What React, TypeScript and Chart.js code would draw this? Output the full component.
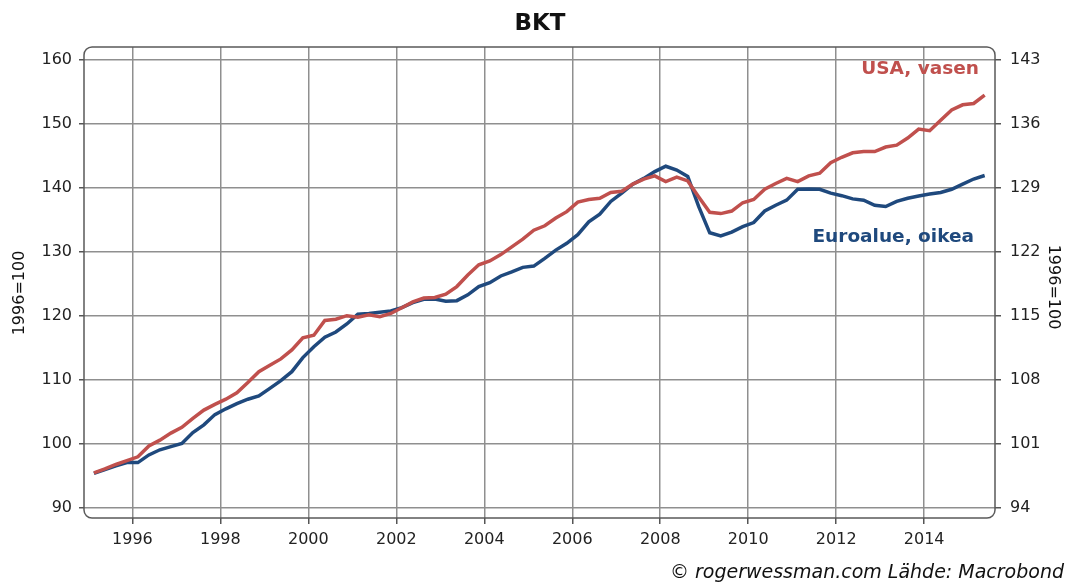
import React, { useEffect, useRef } from "react";
import { Chart, registerables } from "chart.js";
Chart.register(...registerables);

// Quarterly categories 1995Q1 .. 2015Q2
const quarters: string[] = [];
for (let y = 1995; y <= 2015; y++) {
  for (let q = 1; q <= 4; q++) {
    if (y === 2015 && q > 2) break;
    quarters.push(`${y}Q${q}`);
  }
}

// USA GDP, 1996=100 (left axis)
const usaValues = [
  95.5, 96.1, 96.8, 97.4, 98.0, 99.7, 100.6, 101.7, 102.6, 104.0,
  105.3, 106.2, 107.0, 108.0, 109.6, 111.3, 112.3, 113.3, 114.7, 116.6,
  117.0, 119.3, 119.5, 120.05, 119.8, 120.2, 119.9, 120.4, 121.3, 122.2,
  122.8, 122.9, 123.4, 124.6, 126.4, 128.0, 128.6, 129.6, 130.8, 132.0,
  133.4, 134.1, 135.3, 136.3, 137.8, 138.2, 138.4, 139.3, 139.5, 140.6,
  141.4, 141.9, 141.0, 141.7, 141.1, 138.6, 136.2, 136.0, 136.4, 137.7,
  138.2, 139.8, 140.7, 141.5, 141.0, 141.9, 142.3, 143.95, 144.8, 145.5,
  145.7, 145.7, 146.4, 146.7, 147.8, 149.2, 148.95, 150.6, 152.2, 153.0,
  153.2, 154.5,
];

// Euro area GDP, 1996=100 (right axis)
const euroValues = [
  97.78, 98.2, 98.62, 98.97, 98.97, 99.81, 100.37, 100.72, 101.07, 102.26,
  103.1, 104.22, 104.85, 105.41, 105.9, 106.25, 107.09, 107.93, 108.91, 110.45,
  111.64, 112.69, 113.25, 114.13, 115.21, 115.28, 115.42, 115.56, 115.91, 116.47,
  116.82, 116.86, 116.61, 116.68, 117.31, 118.22, 118.64, 119.38, 119.83, 120.32,
  120.46, 121.3, 122.21, 122.95, 123.89, 125.29, 126.13, 127.53, 128.44, 129.42,
  130.05, 130.79, 131.38, 130.96, 130.26, 126.97, 124.1, 123.75, 124.17, 124.77,
  125.22, 126.48, 127.11, 127.67, 128.86, 128.9, 128.86, 128.44, 128.16, 127.81,
  127.67, 127.11, 126.97, 127.53, 127.88, 128.13, 128.34, 128.51, 128.86, 129.42,
  129.98, 130.37,
];

const leftTicks = [90, 100, 110, 120, 130, 140, 150, 160];
const rightTicks = [94, 101, 108, 115, 122, 129, 136, 143];
const yearTicks = [1996, 1998, 2000, 2002, 2004, 2006, 2008, 2010, 2012, 2014];

const titleText = "BKT";
const axisTitle = "1996=100";
const usaLabel = "USA, vasen";
const euroLabel = "Euroalue, oikea";
const footerText = "© rogerwessman.com Lähde: Macrobond";

const RED = "#c0504d";
const BLUE = "#1f497d";
const GRID = "#8f8f8f";
const FONT = '"DejaVu Sans", Verdana, sans-serif';

function quarterToX(label: string): number {
  const y = parseInt(label.slice(0, 4), 10);
  const q = parseInt(label.slice(5), 10);
  return y + (q - 1) / 4 + 0.125;
}

const decorPlugin = {
  id: "decor",
  afterDraw(chart: any) {
    const ctx = chart.ctx as CanvasRenderingContext2D;
    const a = chart.chartArea;
    ctx.save();
    // rounded plot border
    const r = 8;
    ctx.beginPath();
    ctx.moveTo(a.left + r, a.top);
    ctx.lineTo(a.right - r, a.top);
    ctx.arcTo(a.right, a.top, a.right, a.top + r, r);
    ctx.lineTo(a.right, a.bottom - r);
    ctx.arcTo(a.right, a.bottom, a.right - r, a.bottom, r);
    ctx.lineTo(a.left + r, a.bottom);
    ctx.arcTo(a.left, a.bottom, a.left, a.bottom - r, r);
    ctx.lineTo(a.left, a.top + r);
    ctx.arcTo(a.left, a.top, a.left + r, a.top, r);
    ctx.closePath();
    ctx.lineWidth = 1.5;
    ctx.strokeStyle = "#5a5a5a";
    ctx.stroke();

    // title
    ctx.fillStyle = "#111";
    ctx.font = `bold 23px ${FONT}`;
    ctx.textAlign = "center";
    ctx.textBaseline = "alphabetic";
    ctx.fillText(titleText, 540, 30);

    // series labels
    ctx.font = `bold 18.5px ${FONT}`;
    ctx.textAlign = "right";
    ctx.fillStyle = RED;
    ctx.fillText(usaLabel, 979, 74);
    ctx.fillStyle = BLUE;
    ctx.fillText(euroLabel, 974, 242);

    // axis titles
    ctx.fillStyle = "#111";
    ctx.font = `16px ${FONT}`;
    ctx.textAlign = "center";
    ctx.textBaseline = "middle";
    ctx.save();
    ctx.translate(20, 293);
    ctx.rotate(-Math.PI / 2);
    ctx.fillText(axisTitle, 0, 0);
    ctx.restore();
    ctx.save();
    ctx.translate(1053, 287);
    ctx.rotate(Math.PI / 2);
    ctx.fillText(axisTitle, 0, 0);
    ctx.restore();

    // footer
    ctx.font = `oblique 19px ${FONT}`;
    ctx.textAlign = "right";
    ctx.textBaseline = "alphabetic";
    ctx.fillText(footerText, 1064, 578);
    ctx.restore();
  },
};

export default function App() {
  const ref = useRef<HTMLCanvasElement | null>(null);
  useEffect(() => {
    if (!ref.current) return;
    const xs = quarters.map(quarterToX);
    const tickFont = { family: FONT, size: 16 };
    const chart = new Chart(ref.current, {
      type: "line",
      data: {
        datasets: [
          {
            label: "USA",
            data: usaValues.map((v, i) => ({ x: xs[i], y: v })),
            borderColor: RED,
            borderWidth: 3.5,
            pointRadius: 0,
            yAxisID: "y",
            tension: 0,
          },
          {
            label: "Euroalue",
            data: euroValues.map((v, i) => ({ x: xs[i], y: v })),
            borderColor: BLUE,
            borderWidth: 3.5,
            pointRadius: 0,
            yAxisID: "y1",
            tension: 0,
          },
        ],
      },
      options: {
        responsive: false,
        animation: false,
        layout: { padding: { top: 47, left: 0, right: 0, bottom: 0 } },
        plugins: { legend: { display: false }, tooltip: { enabled: false }, title: { display: false } },
        scales: {
          x: {
            type: "linear",
            min: 1994.9,
            max: 2015.61,
            afterBuildTicks: (s: any) => {
              s.ticks = yearTicks.map((v) => ({ value: v }));
            },
            afterFit: (s: any) => {
              s.height = 64;
            },
            grid: { color: GRID, lineWidth: 1.5, tickLength: 6, tickColor: "#555" },
            border: { display: false },
            ticks: { font: tickFont, color: "#222", padding: 6, maxRotation: 0, callback: (v: any) => String(v) },
          },
          y: {
            type: "linear",
            position: "left",
            min: 88.44,
            max: 162.03,
            afterBuildTicks: (s: any) => {
              s.ticks = leftTicks.map((v) => ({ value: v }));
            },
            afterFit: (s: any) => {
              s.width = 84;
            },
            grid: { color: GRID, lineWidth: 1.5, tickLength: 5, tickColor: "#555" },
            border: { display: false },
            ticks: { font: tickFont, color: "#222", padding: 7, callback: (v: any) => String(v) },
          },
          y1: {
            type: "linear",
            position: "right",
            min: 92.91,
            max: 144.42,
            afterBuildTicks: (s: any) => {
              s.ticks = rightTicks.map((v) => ({ value: v }));
            },
            afterFit: (s: any) => {
              s.width = 72;
            },
            grid: { drawOnChartArea: false, lineWidth: 1.5, tickLength: 6, tickColor: "#555" },
            border: { display: false },
            ticks: { font: tickFont, color: "#222", padding: 9, callback: (v: any) => String(v) },
          },
        },
      } as any,
      plugins: [decorPlugin],
    });
    return () => chart.destroy();
  }, []);
  return (
    <div style={{ position: "absolute", left: 0, top: 0, width: 1067, height: 582, background: "#fff" }}>
      <canvas ref={ref} width={1067} height={582} style={{ display: "block" }} />
    </div>
  );
}
